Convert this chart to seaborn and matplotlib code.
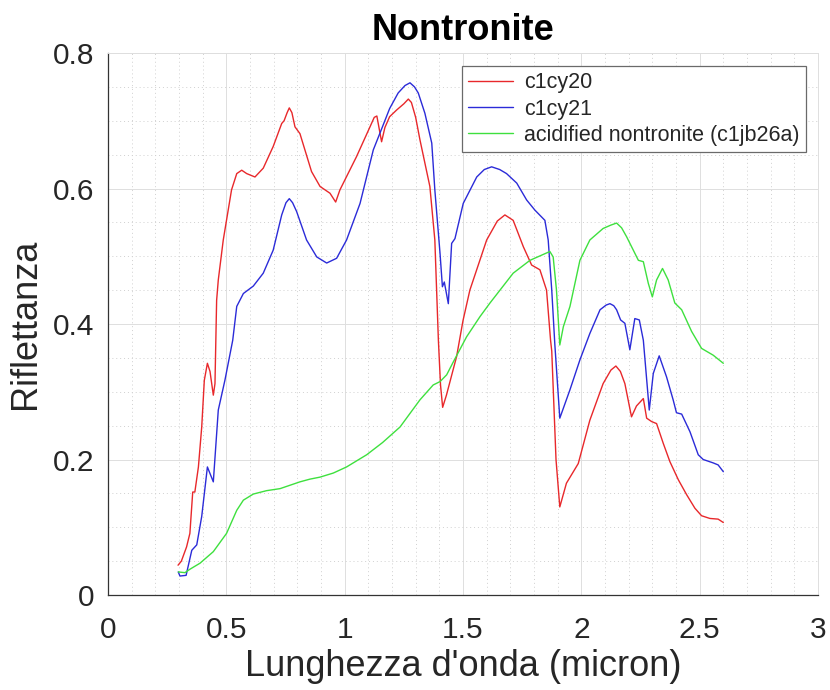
import numpy as np
import pandas as pd
import matplotlib
matplotlib.use("Agg")
import matplotlib.pyplot as plt
import seaborn as sns
from matplotlib.ticker import MultipleLocator

# ---- data ----
red_x = [0.296, 0.31, 0.332, 0.346, 0.358, 0.367, 0.382, 0.396, 0.407, 0.42, 0.431, 0.445, 0.452, 0.459,
         0.466, 0.487, 0.522, 0.544, 0.565, 0.586, 0.621, 0.656, 0.698, 0.734, 0.744, 0.757, 0.766, 0.777,
         0.79, 0.811, 0.86, 0.896, 0.938, 0.962, 0.98, 1.05, 1.107, 1.125, 1.136, 1.156, 1.17, 1.19, 1.22,
         1.25, 1.269, 1.282, 1.30, 1.318, 1.36, 1.381, 1.396, 1.405, 1.414, 1.43, 1.473, 1.50, 1.529, 1.60,
         1.645, 1.677, 1.712, 1.755, 1.79, 1.825, 1.853, 1.87, 1.875, 1.893, 1.909, 1.937, 1.987, 2.036,
         2.092, 2.125, 2.146, 2.165, 2.184, 2.212, 2.233, 2.262, 2.276, 2.297, 2.318, 2.346, 2.374, 2.41,
         2.445, 2.48, 2.508, 2.543, 2.578, 2.60]
red_y = [0.044, 0.05, 0.071, 0.091, 0.152, 0.152, 0.189, 0.248, 0.317, 0.342, 0.33, 0.295, 0.312, 0.435,
         0.465, 0.524, 0.598, 0.622, 0.627, 0.622, 0.617, 0.630, 0.662, 0.696, 0.70, 0.712, 0.719, 0.712,
         0.691, 0.681, 0.625, 0.603, 0.593, 0.580, 0.598, 0.647, 0.691, 0.705, 0.707, 0.669, 0.69, 0.706,
         0.716, 0.725, 0.732, 0.727, 0.705, 0.672, 0.603, 0.524, 0.376, 0.31, 0.277, 0.295, 0.352, 0.405,
         0.45, 0.524, 0.552, 0.561, 0.553, 0.514, 0.487, 0.48, 0.45, 0.376, 0.36, 0.20, 0.130, 0.165, 0.194,
         0.258, 0.312, 0.332, 0.338, 0.33, 0.312, 0.263, 0.279, 0.290, 0.261, 0.256, 0.253, 0.224, 0.197,
         0.170, 0.148, 0.128, 0.117, 0.113, 0.112, 0.107]

blue_x = [0.297, 0.304, 0.33, 0.354, 0.375, 0.396, 0.42, 0.445, 0.466, 0.494, 0.527, 0.544, 0.572, 0.614,
          0.656, 0.698, 0.734, 0.752, 0.766, 0.78, 0.797, 0.839, 0.882, 0.924, 0.966, 1.008, 1.065, 1.121,
          1.163, 1.19, 1.226, 1.255, 1.276, 1.295, 1.311, 1.339, 1.368, 1.381, 1.403, 1.413, 1.421, 1.438,
          1.452, 1.466, 1.501, 1.558, 1.59, 1.621, 1.655, 1.684, 1.727, 1.769, 1.804, 1.846, 1.86, 1.875,
          1.888, 1.909, 1.952, 1.994, 2.036, 2.079, 2.105, 2.121, 2.137, 2.149, 2.166, 2.184, 2.205, 2.226,
          2.245, 2.262, 2.287, 2.304, 2.329, 2.36, 2.388, 2.402, 2.424, 2.459, 2.494, 2.515, 2.557, 2.578,
          2.60]
blue_y = [0.034, 0.028, 0.029, 0.066, 0.074, 0.116, 0.189, 0.167, 0.273, 0.317, 0.376, 0.426, 0.445, 0.456,
          0.475, 0.509, 0.561, 0.579, 0.585, 0.579, 0.566, 0.524, 0.499, 0.490, 0.497, 0.524, 0.578, 0.657,
          0.694, 0.718, 0.741, 0.752, 0.756, 0.750, 0.741, 0.711, 0.667, 0.598, 0.504, 0.455, 0.462, 0.43,
          0.519, 0.526, 0.578, 0.617, 0.628, 0.632, 0.628, 0.622, 0.608, 0.583, 0.568, 0.553, 0.524, 0.45,
          0.37, 0.261, 0.303, 0.347, 0.386, 0.421, 0.428, 0.430, 0.427, 0.421, 0.406, 0.401, 0.362, 0.408,
          0.406, 0.376, 0.273, 0.327, 0.353, 0.322, 0.288, 0.269, 0.267, 0.241, 0.207, 0.200, 0.195, 0.192,
          0.182]

green_x = [0.297, 0.325, 0.346, 0.389, 0.445, 0.501, 0.544, 0.572, 0.614, 0.670, 0.727, 0.811, 0.853, 0.896,
           0.952, 1.008, 1.093, 1.16, 1.234, 1.318, 1.374, 1.403, 1.431, 1.459, 1.515, 1.572, 1.614, 1.712,
           1.783, 1.867, 1.881, 1.895, 1.909, 1.924, 1.952, 1.994, 2.036, 2.092, 2.125, 2.149, 2.17, 2.191,
           2.241, 2.262, 2.283, 2.30, 2.318, 2.343, 2.367, 2.395, 2.424, 2.466, 2.508, 2.557, 2.60]
green_y = [0.034, 0.033, 0.038, 0.047, 0.064, 0.091, 0.125, 0.140, 0.149, 0.154, 0.157, 0.167, 0.171, 0.174,
           0.180, 0.189, 0.207, 0.225, 0.248, 0.288, 0.310, 0.315, 0.325, 0.344, 0.381, 0.411, 0.431, 0.475,
           0.494, 0.507, 0.499, 0.45, 0.369, 0.396, 0.426, 0.494, 0.524, 0.541, 0.546, 0.549, 0.542, 0.529,
           0.494, 0.492, 0.460, 0.440, 0.465, 0.482, 0.465, 0.431, 0.421, 0.389, 0.364, 0.354, 0.342]

series_names = ["c1cy20", "c1cy21", "acidified nontronite (c1jb26a)"]
series_colors = ["#e8282b", "#2b2bd8", "#3ee03e"]

x_ticks = [0, 0.5, 1, 1.5, 2, 2.5, 3]
x_tick_labels = ["0", "0.5", "1", "1.5", "2", "2.5", "3"]
y_ticks = [0, 0.2, 0.4, 0.6, 0.8]
y_tick_labels = ["0", "0.2", "0.4", "0.6", "0.8"]

frames = []
for name, xs, ys in zip(series_names, [red_x, blue_x, green_x], [red_y, blue_y, green_y]):
    frames.append(pd.DataFrame({"x": xs, "y": ys, "series": name}))
df = pd.concat(frames, ignore_index=True)

# ---- style ----
sns.set_style("white")
plt.rcParams['font.family'] = ['Liberation Sans', 'DejaVu Sans']

fig = plt.figure(figsize=(8.3, 6.9), dpi=100)
ax = fig.add_axes([108 / 830, 1 - 595 / 690, 710 / 830, 542 / 690])

sns.lineplot(data=df, x="x", y="y", hue="series", hue_order=series_names,
             palette=dict(zip(series_names, series_colors)), sort=False,
             estimator=None, linewidth=1.0, ax=ax)

ax.set_xlim(0, 3)
ax.set_ylim(0, 0.8)
ax.set_xticks(x_ticks)
ax.set_xticklabels(x_tick_labels)
ax.set_yticks(y_ticks)
ax.set_yticklabels(y_tick_labels)
ax.xaxis.set_minor_locator(MultipleLocator(0.1))
ax.yaxis.set_minor_locator(MultipleLocator(0.05))

ax.grid(which="major", color="#dedede", linewidth=0.7, linestyle="-")
ax.grid(which="minor", color="#d0d0d0", linewidth=0.7, linestyle=(0, (1, 3)))
ax.set_axisbelow(True)

for s in ["left", "bottom"]:
    ax.spines[s].set_color("#333333")
    ax.spines[s].set_linewidth(0.9)
for s in ["top", "right"]:
    ax.spines[s].set_color("#dedede")
    ax.spines[s].set_linewidth(0.7)

ax.tick_params(which="major", direction="in", length=6, width=0.8, color="#333333",
               labelsize=21.5, labelcolor="#262626", pad=10, top=False, right=False)
ax.tick_params(axis="x", which="major", pad=15)
ax.tick_params(which="minor", direction="in", length=3, width=0.6, color="#333333",
               top=False, right=False)
ax.tick_params(axis="y", which="minor", length=0)

ax.set_xlabel("Lunghezza d'onda (micron)", fontsize=26, color="#262626", labelpad=4)
ax.set_ylabel("Riflettanza", fontsize=26, color="#262626", labelpad=7)
ax.set_title("Nontronite", fontsize=26, fontweight="bold", color="black", pad=9)

handles, labels = ax.get_legend_handles_labels()
leg = ax.legend(handles, labels, loc="upper right", bbox_to_anchor=(0.983, 0.976),
                borderaxespad=0, fontsize=15.5, frameon=True, fancybox=False,
                handlelength=2.1, handletextpad=0.5, labelspacing=0.24, borderpad=0.3)
leg.get_frame().set_edgecolor("#6a6a6a")
leg.get_frame().set_linewidth(0.9)
leg.get_frame().set_alpha(1)

fig.savefig("out.png", dpi=100)
